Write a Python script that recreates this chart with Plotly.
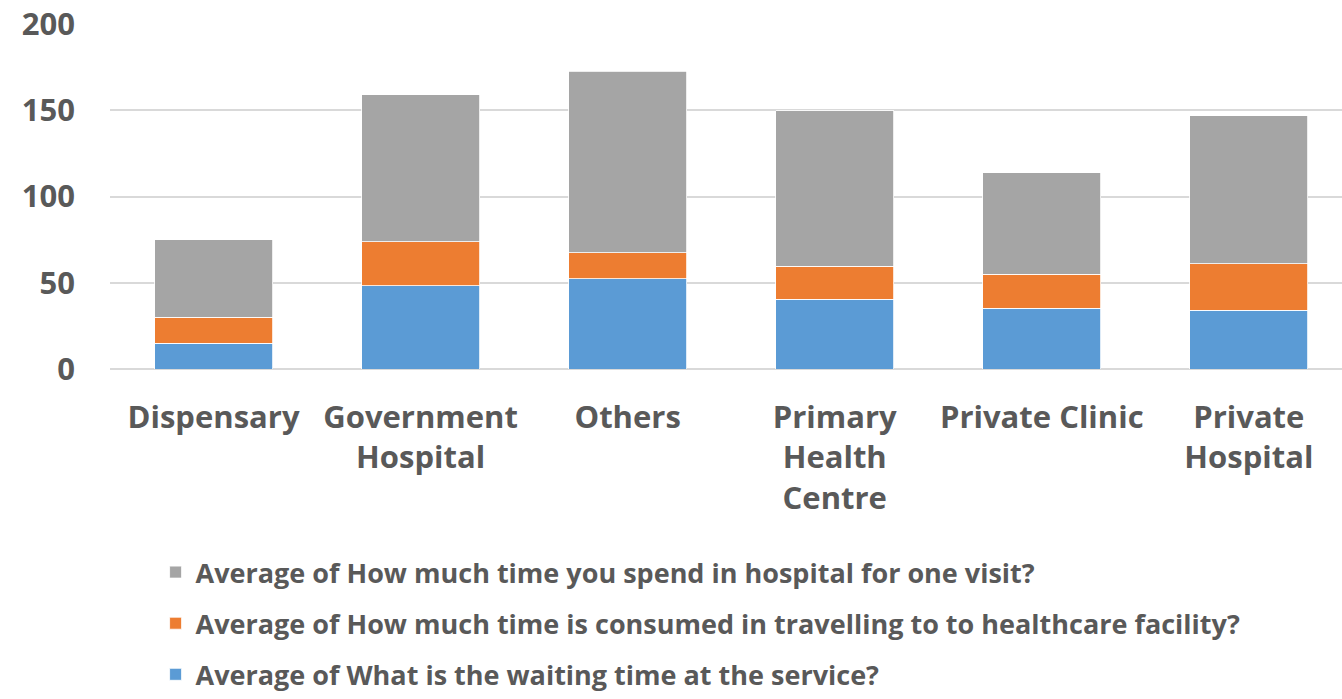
import plotly.graph_objects as go

categories = ["Dispensary", "Government<br>Hospital", "Others",
              "Primary<br>Health<br>Centre", "Private Clinic", "Private<br>Hospital"]

waiting_time = [15.0, 48.3, 52.4, 40.4, 35.2, 34.0]
travel_time = [15.0, 25.5, 15.1, 19.3, 19.7, 27.1]
hospital_time = [45.0, 85.2, 105.0, 90.1, 59.0, 85.8]

series_names = [
    "Average of What is the waiting time at the service?",
    "Average of How much time is consumed in travelling to to healthcare facility?",
    "Average of How much time you spend in hospital for one visit?",
]
series_colors = ["#5b9bd5", "#ed7d31", "#a5a5a5"]
legend_ranks = [3, 2, 1]
y_ticks = [0, 50, 100, 150, 200]

text_color = "#595959"
font_family = "'Open Sans', Lato, sans-serif"

fig = go.Figure()
for i, (name, vals, color) in enumerate(zip(series_names,
                                             [waiting_time, travel_time, hospital_time],
                                             series_colors)):
    fig.add_trace(go.Bar(
        x=categories, y=vals, name=name,
        marker=dict(color=color, line=dict(color="#ffffff", width=0.8)),
        legendgroup=f"g{i}",
        legendrank=legend_ranks[i],
        width=0.57,
    ))

fig.update_layout(
    barmode="stack",
    width=1342, height=699,
    margin=dict(l=110, r=0, t=24, b=330, autoexpand=False),
    plot_bgcolor="#ffffff", paper_bgcolor="#ffffff",
    font=dict(family=font_family, color=text_color),
    showlegend=True,
    legend=dict(
        orientation="v",
        x=0.037, xanchor="left",
        y=-0.519, yanchor="top",
        traceorder="grouped",
        tracegroupgap=13,
        font=dict(size=27, color=text_color, family=font_family, weight="bold"),
        itemwidth=30,
    ),
    xaxis=dict(
        range=[-0.5, 5.45],
        tickfont=dict(size=31, color=text_color, family=font_family, weight="bold"),
        showgrid=False,
        showline=False,
        ticks="",
        ticklabelstandoff=27,
    ),
    yaxis=dict(
        range=[0, 200],
        tickvals=y_ticks,
        tickfont=dict(size=31, color=text_color, family=font_family, weight="bold"),
        showgrid=True, gridcolor="#d9d9d9", gridwidth=1.5,
        zeroline=True, zerolinecolor="#d9d9d9", zerolinewidth=1.5,
        showline=False,
        ticks="",
        ticklabelstandoff=34,
    ),
)

fig.write_html("out.html")
